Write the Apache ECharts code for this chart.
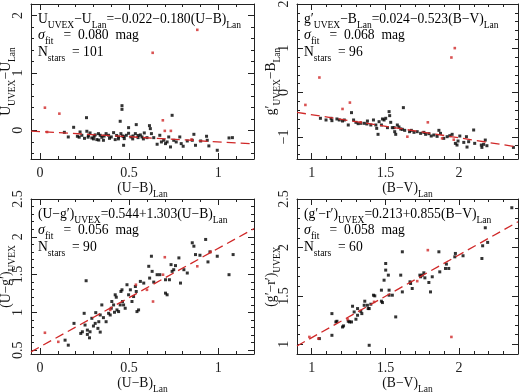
<!DOCTYPE html>
<html>
<head>
<meta charset="utf-8">
<script src="https://cdn.jsdelivr.net/npm/echarts@6/dist/echarts.min.js"></script>
<style>
html, body { margin: 0; padding: 0; background: #fff; }
#chart { width: 520px; height: 392px; }
</style>
</head>
<body>
<div id="chart"></div>
<script>
// panel 1: U_UVEX - U_Lan  vs (U-B)_Lan
const p1Black = [
  [0.137,-0.035],[0.159,-0.116],[0.189,0.052],[0.210,-0.104],[0.225,-0.029],[0.235,-0.087],
  [0.261,0.220],[0.263,-0.017],[0.272,-0.087],[0.281,-0.046],[0.291,-0.133],[0.304,-0.104],
  [0.319,-0.162],[0.328,-0.058],[0.338,-0.087],[0.347,-0.122],[0.356,-0.174],[0.371,-0.058],
  [0.385,-0.087],[0.400,-0.116],[0.413,-0.041],[0.422,-0.162],[0.441,-0.116],[0.454,-0.058],
  [0.463,-0.099],[0.473,-0.145],[0.484,-0.087],[0.497,-0.052],[0.510,-0.116],[0.450,0.157],
  [0.460,0.429],[0.460,0.365],[0.469,-0.261],[0.497,0.046],[0.522,-0.099],[0.535,-0.058],
  [0.540,0.099],[0.550,-0.128],[0.563,-0.081],[0.572,-0.116],[0.585,-0.046],[0.600,-0.128],
  [0.614,0.081],[0.619,0.029],[0.625,-0.058],[0.638,-0.128],[0.657,-0.243],[0.672,-0.087],
  [0.681,-0.203],[0.694,-0.174],[0.704,-0.232],[0.713,-0.203],[0.722,-0.116],[0.732,-0.290],
  [0.741,0.261],[0.750,-0.174],[0.764,-0.203],[0.784,-0.116],[0.792,-0.232],[0.803,-0.278],
  [0.826,-0.186],[0.854,-0.174],[0.863,-0.070],[0.872,-0.261],[0.901,-0.186],[0.934,-0.104],
  [0.938,-0.174],[0.947,-0.272],[0.994,-0.348],[1.060,-0.133],[1.079,-0.128],
  [0.22,-0.12],[0.25,-0.14],[0.30,-0.15],[0.33,-0.17],[0.36,-0.10],[0.39,-0.14],[0.43,-0.09],
  [0.47,-0.11],[0.52,-0.15],[0.55,-0.09],[0.58,-0.15],[0.44,-0.15],[0.27,-0.12],[0.31,-0.08]
];
const p1Red = [
  [0.028,0.394],[0.109,0.290],[0.632,1.350],[0.882,1.750],[0.689,0.174],[0.700,-0.010],
  [0.734,-0.010],[0.040,-0.030],[0.850,-0.160]
];
const p1Fit = [[-0.05,-0.013],[1.2,-0.238]];

// panel 2: g'_UVEX - B_Lan  vs (B-V)_Lan
const p2Black = [
  [1.059,-0.581],[1.097,-0.619],[1.131,-0.581],[1.137,-0.634],[1.171,-0.596],[1.187,-0.619],
  [1.209,-0.642],[1.221,-0.619],[1.248,-0.732],[1.270,-0.453],[1.284,-0.619],[1.300,-0.672],
  [1.315,-0.702],[1.333,-0.694],[1.356,-0.694],[1.374,-0.709],[1.378,-0.642],[1.401,-0.732],
  [1.419,-0.619],[1.435,-0.732],[1.450,-0.943],[1.441,-0.808],[1.457,-0.657],[1.473,-0.732],
  [1.480,-0.596],[1.491,-0.619],[1.502,-0.581],[1.514,-0.792],[1.525,-0.430],[1.529,-0.521],
  [1.536,-0.672],[1.547,-0.792],[1.559,-0.792],[1.563,-0.883],[1.570,-0.943],[1.581,-0.732],
  [1.592,-0.777],[1.604,-0.823],[1.615,-0.830],[1.622,-0.340],[1.631,-0.853],[1.664,-0.883],
  [1.676,-0.853],[1.694,-0.898],[1.716,-0.883],[1.739,-0.921],[1.761,-0.898],[1.773,-0.943],
  [1.795,-0.928],[1.811,-0.981],[1.829,-0.958],[1.851,-0.989],[1.863,-0.853],[1.874,-0.921],
  [1.896,-1.034],[1.919,-0.996],[1.937,-0.974],[1.953,-0.943],[1.975,-1.147],[1.986,-1.185],
  [1.993,-1.094],[2.005,-0.981],[2.032,-1.125],[2.050,-0.996],[2.054,-1.230],[2.065,-1.109],
  [2.099,-0.845],[2.106,-1.147],[2.151,-1.185],[2.155,-1.238],[2.167,-1.170],[2.178,-1.072],
  [2.189,-1.200],[2.369,-1.238]
];
const p2Red = [
  [0.957,-0.279],[1.052,0.340],[1.209,-0.370],[1.259,-0.226],[1.948,0.792],[1.971,1.004],
  [1.788,-0.672],[1.333,-0.672],[1.649,-0.996],[1.885,-1.034],[1.964,-1.064]
];
const p2Fit = [[0.9,-0.447],[2.4,-1.231]];

// panel 3: (U-g')_UVEX  vs (U-B)_Lan
const p3Black = [
  [0.159,0.567],[0.141,0.633],[0.191,0.855],[0.229,0.722],[0.238,0.744],[0.248,0.988],
  [0.259,1.419],[0.253,0.833],[0.266,0.766],[0.266,0.709],[0.278,0.664],[0.281,0.744],
  [0.291,0.922],[0.300,0.820],[0.310,0.855],[0.313,0.997],[0.325,0.789],[0.330,0.877],
  [0.338,0.740],[0.338,0.966],[0.347,1.099],[0.356,0.931],[0.371,0.877],[0.385,0.988],
  [0.394,0.966],[0.400,1.055],[0.403,1.144],[0.413,1.099],[0.418,1.002],[0.422,1.233],
  [0.428,1.201],[0.432,1.033],[0.441,1.011],[0.450,1.099],[0.454,1.277],[0.460,1.299],
  [0.463,1.144],[0.469,1.099],[0.478,1.055],[0.488,1.366],[0.497,1.233],[0.507,1.299],
  [0.516,1.144],[0.525,1.210],[0.535,1.343],[0.540,1.277],[0.544,1.011],[0.553,1.033],
  [0.563,1.410],[0.582,1.388],[0.610,1.610],[0.615,1.454],[0.625,1.743],[0.629,1.543],
  [0.638,1.401],[0.657,1.499],[0.672,1.499],[0.704,1.255],[0.704,1.432],[0.713,1.233],
  [0.726,1.432],[0.735,1.632],[0.741,1.543],[0.750,1.565],[0.760,1.619],[0.779,1.721],
  [0.788,1.388],[0.807,1.565],[0.826,1.521],[0.854,1.921],[0.863,1.876],[0.872,1.765],
  [0.897,1.756],[0.929,1.965],[0.942,1.668],[0.953,1.801],[0.994,1.743],[1.060,1.499],
  [1.083,1.765]
];
const p3Red = [
  [0.028,0.731],[0.103,0.611],[0.700,1.730],[0.634,1.144],[0.538,1.366],[0.394,1.033],
  [0.882,1.610],[0.957,1.801],[0.690,1.499],[0.600,1.299]
];
const p3Fit = [[-0.05,0.479],[1.2,2.108]];

// panel 4: (g'-r')_UVEX  vs (B-V)_Lan
const p4Black = [
  [1.052,1.059],[1.137,1.317],[1.137,1.093],[1.164,1.231],[1.171,1.238],[1.209,1.179],
  [1.216,1.190],[1.248,1.238],[1.257,1.231],[1.270,1.231],[1.277,1.393],[1.288,1.334],
  [1.300,1.259],[1.311,1.300],[1.311,1.369],[1.333,1.341],[1.340,1.317],[1.356,1.403],
  [1.360,1.445],[1.378,1.403],[1.383,1.369],[1.390,0.990],[1.390,1.369],[1.401,1.414],
  [1.419,1.507],[1.428,1.500],[1.473,1.559],[1.473,1.445],[1.480,1.431],[1.491,1.662],
  [1.502,1.834],[1.502,1.766],[1.520,1.714],[1.525,1.559],[1.525,1.507],[1.547,1.507],
  [1.570,1.283],[1.604,1.714],[1.615,1.541],[1.615,1.955],[1.667,1.645],[1.671,1.628],
  [1.682,1.576],[1.734,1.714],[1.739,1.697],[1.750,1.714],[1.761,1.738],[1.768,1.686],
  [1.795,1.638],[1.806,1.541],[1.818,1.697],[1.863,1.955],[1.869,1.748],[1.908,1.783],
  [1.914,1.828],[1.930,1.783],[1.971,1.903],[1.975,1.938],[2.027,1.914],[2.155,1.886],
  [2.160,2.017],[2.178,2.203],[2.194,2.052],[2.358,2.410]
];
const p4Red = [
  [0.984,1.076],[1.045,1.059],[1.788,1.972],[1.948,1.076],[1.243,1.259],[1.716,1.652],
  [1.423,1.438]
];
const p4Fit = [[0.9,0.983],[2.4,2.265]];

// tick labels
const xTicks = [[0, 0.5, 1], [1, 1.5, 2], [0, 0.5, 1], [1, 1.5, 2]];
const yTicks = [[0, 1, 2], [-1, 0, 1, 2], [0.5, 1, 1.5, 2, 2.5], [1, 1.5, 2, 2.5]];

// texts
const fitText = [
  '{m|U}{s|UVEX}{m|−U}{s|Lan}{m|=−0.022−0.180(U−B)}{s|Lan}',
  '{m|g′}{s|UVEX}{m|−B}{s|Lan}{m|=0.024−0.523(B−V)}{s|Lan}',
  '{m|(U−g′)}{s|UVEX}{m|=0.544+1.303(U−B)}{s|Lan}',
  '{m|(g′−r′)}{s|UVEX}{m|=0.213+0.855(B−V)}{s|Lan}'
];
const sigmaVals = ['0.080', '0.068', '0.056', '0.058'];
const nStars = ['101', '96', '90', '60'];
const xNames = ['{m|(U−B)}{s|Lan}', '{m|(B−V)}{s|Lan}', '{m|(U−B)}{s|Lan}', '{m|(B−V)}{s|Lan}'];
const yNames = ['{m|U}{s|UVEX}{m|−U}{s|Lan}', '{m|g′}{s|UVEX}{m|−B}{s|Lan}', '{m|(U−g′)}{s|UVEX}', '{m|(g′−r′)}{s|UVEX}'];

const FONT = 'Liberation Serif';
const INK = '#222';
const RED = '#d02828';

const rich = {
  m: { fontFamily: FONT, fontSize: 13.6, color: '#111', verticalAlign: 'top', lineHeight: 15 },
  i: { fontFamily: FONT, fontSize: 14, fontStyle: 'italic', color: '#111', verticalAlign: 'top', lineHeight: 15 },
  s: { fontFamily: FONT, fontSize: 9.5, color: '#111', verticalAlign: 'top', lineHeight: 10, padding: [8, 0, 0, 0] }
};

const grids = [
  { left: 31, top: 4, width: 223, height: 155 },
  { left: 297, top: 4, width: 221, height: 155 },
  { left: 31, top: 199, width: 223, height: 155 },
  { left: 297, top: 199, width: 221, height: 155 }
].map(function (g) { return Object.assign({ outerBoundsMode: 'none', containLabel: false }, g); });

const xRange = [[-0.05, 1.2, 0.5], [0.9, 2.4, 0.5], [-0.05, 1.2, 0.5], [0.9, 2.4, 0.5]];
const yRange = [[-0.5, 2.2, 1], [-1.5, 2, 1], [0.45, 2.5, 0.5], [0.9, 2.5, 0.5]];
const yNameGap = [17, 18, 17, 18];

function axis(dim, gi, r, ticks, main, name, gap) {
  const a = {
    type: 'value', gridIndex: gi, min: r[0], max: r[1],
    minInterval: r[2], maxInterval: r[2], splitNumber: 3,
    position: dim === 'x' ? (main ? 'bottom' : 'top') : (main ? 'left' : 'right'),
    axisLine: { show: true, onZero: false, lineStyle: { color: INK, width: 1 } },
    axisTick: { show: true, inside: true, length: 6, customValues: ticks, lineStyle: { color: INK } },
    minorTick: { show: true, splitNumber: 5, length: 3, lineStyle: { color: INK } },
    splitLine: { show: false },
    axisLabel: { show: main, customValues: ticks, fontFamily: FONT, fontSize: 14, color: INK,
      margin: dim === 'x' ? 7 : 6, rotate: dim === 'y' ? 90 : 0,
      formatter: function (v) { return String(v).replace('-', '−'); } }
  };
  if (main) {
    a.name = name;
    a.nameLocation = 'middle';
    a.nameGap = gap;
    a.nameMoveOverlap = false;
    a.nameTextStyle = { rich: rich };
  }
  return a;
}

const xAxis = [], yAxis = [], series = [], graphic = [];
const blacks = [p1Black, p2Black, p3Black, p4Black];
const reds = [p1Red, p2Red, p3Red, p4Red];
const fits = [p1Fit, p2Fit, p3Fit, p4Fit];

for (let i = 0; i < 4; i++) {
  xAxis.push(axis('x', i, xRange[i], xTicks[i], true, xNames[i], 22));
  xAxis.push(axis('x', i, xRange[i], xTicks[i], false));
  yAxis.push(axis('y', i, yRange[i], yTicks[i], true, yNames[i], yNameGap[i]));
  yAxis.push(axis('y', i, yRange[i], yTicks[i], false));
  series.push({
    type: 'scatter', xAxisIndex: 2 * i, yAxisIndex: 2 * i, data: blacks[i],
    symbol: 'rect', symbolSize: 3, itemStyle: { color: '#000' }, silent: true
  });
  series.push({
    type: 'scatter', xAxisIndex: 2 * i, yAxisIndex: 2 * i, data: reds[i],
    symbol: 'rect', symbolSize: 2.6, itemStyle: { color: RED }, silent: true
  });
  series.push({
    type: 'line', xAxisIndex: 2 * i, yAxisIndex: 2 * i, data: fits[i],
    symbol: 'none', silent: true,
    lineStyle: { color: RED, width: 1.3, type: [9, 5] }
  });
  const g = grids[i];
  const tx = g.left + 7;
  graphic.push({ type: 'text', left: tx, top: g.top + 8, style: { text: fitText[i], rich: rich } });
  graphic.push({ type: 'text', left: tx, top: g.top + 24, style: { text: '{i|σ}{s|fit}{m|   =  ' + sigmaVals[i] + '  mag}', rich: rich } });
  graphic.push({ type: 'text', left: tx, top: g.top + 41, style: { text: '{m|N}{s|stars}{m|  = ' + nStars[i] + '}', rich: rich } });
}

const chart = echarts.init(document.getElementById('chart'));
chart.setOption({
  animation: false,
  backgroundColor: '#fff',
  grid: grids,
  xAxis: xAxis,
  yAxis: yAxis,
  series: series,
  graphic: graphic
});
</script>
</body>
</html>
